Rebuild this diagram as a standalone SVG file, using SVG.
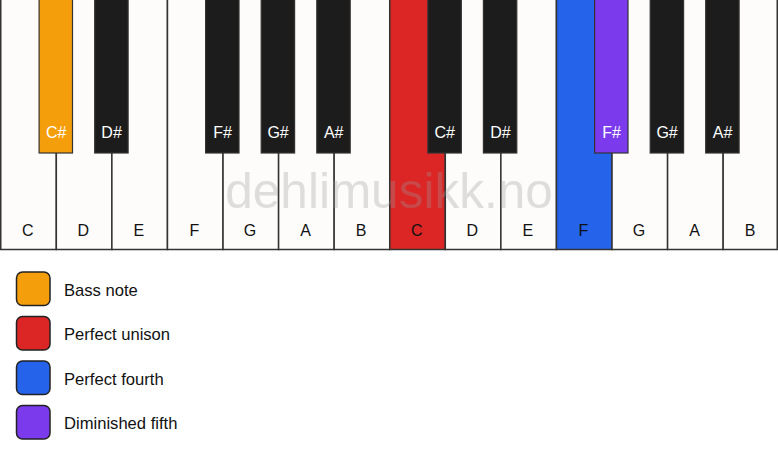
<svg xmlns="http://www.w3.org/2000/svg" width="778" height="461" viewBox="0 0 778 461">
<style>
.w{fill:#fdfcfa;stroke:#333;stroke-width:1.5}
.b{fill:#1c1c1c;stroke:#333;stroke-width:1.2}
.wl{font-family:"Liberation Sans",Arial,sans-serif;font-size:16px;fill:#111;text-anchor:middle}
.bl{font-family:"Liberation Sans",Arial,sans-serif;font-size:16px;fill:#fff;text-anchor:middle}
.lg{stroke:#222;stroke-width:1.5}
.lt{font-family:"Liberation Sans",Arial,sans-serif;font-size:16.6px;fill:#111}
.wm{font-family:"Liberation Sans",Arial,sans-serif;font-size:49.5px;fill:#999;opacity:0.3;text-anchor:middle}
</style>
<rect width="778" height="461" fill="#ffffff"/>
<g id="white-keys">
<g id="w-C1"><rect class="w" x="0.75" y="-1" width="55.57" height="250.5"/><text class="wl" x="27.8" y="236">C</text></g>
<g id="w-D1"><rect class="w" x="56.32" y="-1" width="55.57" height="250.5"/><text class="wl" x="83.4" y="236">D</text></g>
<g id="w-E1"><rect class="w" x="111.89" y="-1" width="55.57" height="250.5"/><text class="wl" x="138.9" y="236">E</text></g>
<g id="w-F1"><rect class="w" x="167.46" y="-1" width="55.57" height="250.5"/><text class="wl" x="194.5" y="236">F</text></g>
<g id="w-G1"><rect class="w" x="223.03" y="-1" width="55.57" height="250.5"/><text class="wl" x="250.1" y="236">G</text></g>
<g id="w-A1"><rect class="w" x="278.6" y="-1" width="55.57" height="250.5"/><text class="wl" x="305.6" y="236">A</text></g>
<g id="w-B1"><rect class="w" x="334.17" y="-1" width="55.57" height="250.5"/><text class="wl" x="361.2" y="236">B</text></g>
<g id="w-C2"><rect class="w" x="389.74" y="-1" width="55.57" height="250.5" style="fill:#dc2626"/><text class="wl" x="416.8" y="236">C</text></g>
<g id="w-D2"><rect class="w" x="445.31" y="-1" width="55.57" height="250.5"/><text class="wl" x="472.3" y="236">D</text></g>
<g id="w-E2"><rect class="w" x="500.88" y="-1" width="55.57" height="250.5"/><text class="wl" x="527.9" y="236">E</text></g>
<g id="w-F2"><rect class="w" x="556.45" y="-1" width="55.57" height="250.5" style="fill:#2563eb"/><text class="wl" x="583.5" y="236">F</text></g>
<g id="w-G2"><rect class="w" x="612.02" y="-1" width="55.57" height="250.5"/><text class="wl" x="639" y="236">G</text></g>
<g id="w-A2"><rect class="w" x="667.59" y="-1" width="55.57" height="250.5"/><text class="wl" x="694.6" y="236">A</text></g>
<g id="w-B2"><rect class="w" x="723.16" y="-1" width="54.09" height="250.5"/><text class="wl" x="750.2" y="236">B</text></g>
</g>
<text class="wm" x="389" y="208">dehlimusikk.no</text>
<g id="black-keys">
<g id="b-Cs1"><rect class="b" x="39.1" y="-1" width="33.4" height="154" style="fill:#f59e0b"/><text class="bl" x="56.3" y="138">C#</text></g>
<g id="b-Ds1"><rect class="b" x="94.7" y="-1" width="33.4" height="154"/><text class="bl" x="111.6" y="138">D#</text></g>
<g id="b-Fs1"><rect class="b" x="205.6" y="-1" width="33.4" height="154"/><text class="bl" x="222.5" y="138">F#</text></g>
<g id="b-Gs1"><rect class="b" x="261.2" y="-1" width="33.4" height="154"/><text class="bl" x="278.1" y="138">G#</text></g>
<g id="b-As1"><rect class="b" x="316.8" y="-1" width="33.4" height="154"/><text class="bl" x="333.7" y="138">A#</text></g>
<g id="b-Cs2"><rect class="b" x="427.9" y="-1" width="33.4" height="154"/><text class="bl" x="444.8" y="138">C#</text></g>
<g id="b-Ds2"><rect class="b" x="483.4" y="-1" width="33.4" height="154"/><text class="bl" x="500.4" y="138">D#</text></g>
<g id="b-Fs2"><rect class="b" x="594.6" y="-1" width="33.4" height="154" style="fill:#7c3aed"/><text class="bl" x="611.5" y="138">F#</text></g>
<g id="b-Gs2"><rect class="b" x="650.2" y="-1" width="33.4" height="154"/><text class="bl" x="667.1" y="138">G#</text></g>
<g id="b-As2"><rect class="b" x="705.7" y="-1" width="33.4" height="154"/><text class="bl" x="722.6" y="138">A#</text></g>
</g>
<g id="legend">
<g id="lg-bass"><rect class="lg" x="16.5" y="272" width="33.5" height="33.5" rx="6" fill="#f59e0b"/><text class="lt" x="64" y="295.5">Bass note</text></g>
<g id="lg-unison"><rect class="lg" x="16.5" y="316.5" width="33.5" height="33.5" rx="6" fill="#dc2626"/><text class="lt" x="64" y="340">Perfect unison</text></g>
<g id="lg-fourth"><rect class="lg" x="16.5" y="361" width="33.5" height="33.5" rx="6" fill="#2563eb"/><text class="lt" x="64" y="384.5">Perfect fourth</text></g>
<g id="lg-dim5"><rect class="lg" x="16.5" y="405.5" width="33.5" height="33.5" rx="6" fill="#7c3aed"/><text class="lt" x="64" y="429">Diminished fifth</text></g>
</g>
<g id="connectors"></g>
</svg>
